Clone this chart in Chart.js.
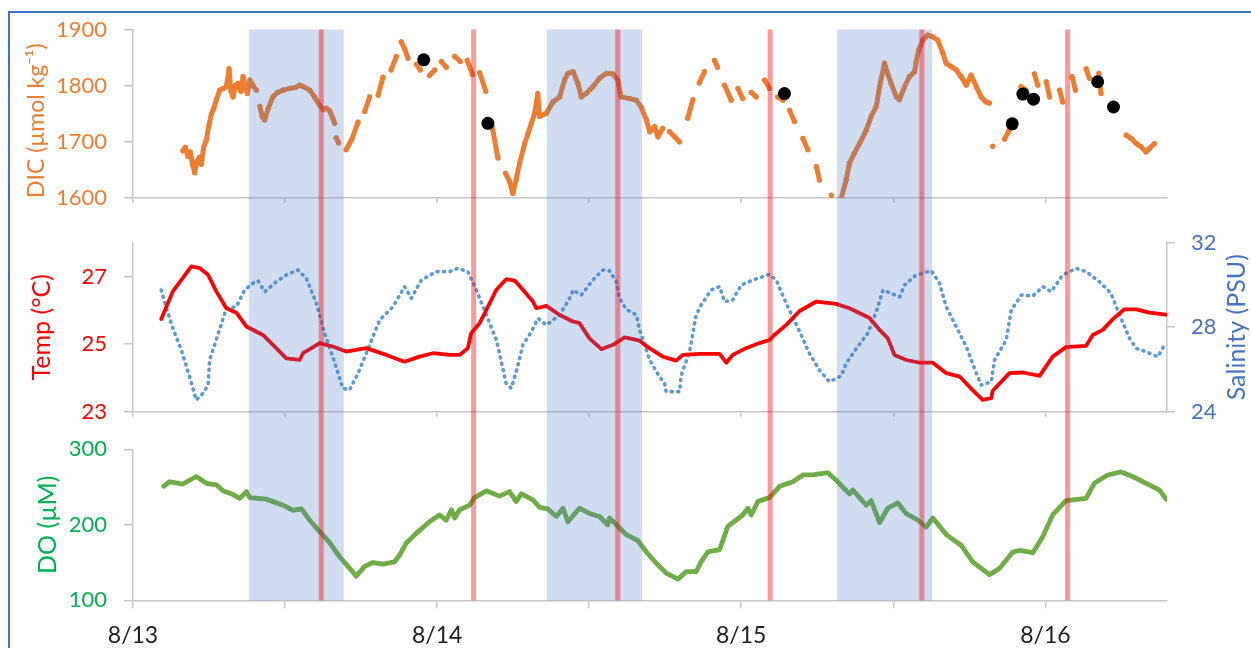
<!DOCTYPE html>
<html><head><meta charset="utf-8">
<script src="https://cdn.jsdelivr.net/npm/chart.js@4.4.1/dist/chart.umd.min.js"></script>
<style>
html,body{margin:0;padding:0;background:#fff;overflow:hidden;}
#wrap{position:relative;width:1251px;height:648px;overflow:hidden;}
#frame{position:absolute;left:8px;top:11px;width:1400px;height:800px;border:2px solid #4472C4;box-sizing:border-box;}
canvas{position:absolute;left:0;top:0;}
</style></head><body>
<div id="wrap"><div id="frame"></div><canvas id="c" width="1251" height="648"></canvas></div>
<script>
// ---- time axis (days since 8/13 00:00) ----
const dayLabels = ['8/13', '8/14', '8/15', '8/16'];
const xTickValues = [0, 0.5, 1, 1.5, 2, 2.5, 3];
const dicTicks = [1600, 1700, 1800, 1900];
const tempTicks = [23, 25, 27];
const salTicks = [24, 28, 32];
const doTicks = [100, 200, 300];

// night periods (shaded) and low-tide markers (red lines)
const nightStart = [0.381, 1.361, 2.315];
const nightEnd = [0.693, 1.674, 2.628];
const lowTide = [0.619, 1.120, 1.594, 2.095, 2.594, 3.073];

// DIC sensor readings [day, µmol/kg]; null = data gap
const dicReadings = [
[0.164,1684],[0.172,1690],[0.181,1674],[0.188,1682],[0.196,1660],[0.203,1645],[0.210,1665],[0.218,1672],[0.225,1660],[0.232,1690],[0.241,1703],[0.250,1730],[0.258,1750],[0.266,1760],[0.274,1775],[0.285,1792],[0.296,1795],[0.307,1798],[0.316,1830],[0.322,1790],[0.329,1780],[0.337,1800],[0.345,1804],[0.355,1790],[0.362,1816],[0.370,1795],[0.376,1786],[0.384,1810],[0.395,1800],[0.406,1792],
null,
[0.417,1763],[0.425,1745],[0.433,1739],[0.445,1760],[0.460,1780],[0.475,1788],[0.493,1792],[0.515,1795],[0.535,1797],[0.548,1801],[0.565,1797],[0.581,1792],[0.597,1780],[0.614,1765],[0.625,1757],[0.636,1760],[0.647,1755],[0.657,1742],[0.663,1733],
null,[0.668,1707],[0.676,1698],
null,[0.701,1686],[0.720,1705],[0.740,1735],
null,[0.762,1754],[0.778,1780],
null,[0.806,1783],[0.822,1815],
null,[0.849,1828],[0.866,1852],
null,[0.882,1878],[0.893,1866],[0.904,1849],
null,[0.932,1838],[0.945,1828],
null,[0.975,1818],[0.992,1828],
null,[1.014,1843],[1.030,1833],
null,[1.058,1852],[1.076,1843],
null,[1.099,1845],[1.116,1820],
null,[1.140,1823],[1.160,1790],
null,[1.181,1727],[1.200,1671],
null,
[1.225,1644],[1.238,1630],[1.249,1608],[1.260,1633],[1.271,1662],[1.288,1697],[1.299,1715],[1.310,1733],[1.321,1751],[1.331,1786],[1.337,1745],[1.359,1751],[1.381,1771],[1.403,1780],[1.419,1810],[1.430,1822],[1.447,1825],[1.463,1804],[1.474,1780],[1.490,1786],[1.512,1798],[1.534,1813],[1.556,1822],[1.578,1821],[1.594,1810],[1.605,1780],[1.633,1777],[1.655,1774],[1.671,1762],[1.688,1739],[1.699,1718],[1.715,1727],[1.726,1709],[1.742,1724],
null,[1.764,1718],[1.781,1709],[1.797,1700],
null,[1.824,1742],[1.841,1775],
null,[1.862,1805],[1.879,1825],
null,[1.912,1845],[1.922,1833],
null,[1.945,1801],[1.967,1774],
null,[1.989,1795],[2.005,1777],
null,[2.033,1788],[2.049,1780],
null,[2.077,1810],[2.093,1795],
null,[2.120,1780],[2.137,1774],
null,[2.159,1756],[2.175,1736],
null,[2.203,1706],[2.219,1686],
null,[2.247,1656],[2.257,1632],
null,[2.296,1605],
null,
[2.329,1600],[2.345,1632],[2.356,1662],[2.372,1680],[2.389,1697],[2.411,1721],[2.427,1745],[2.444,1763],[2.455,1798],[2.471,1840],[2.479,1825],[2.493,1804],[2.510,1780],[2.520,1775],[2.537,1798],[2.553,1816],[2.570,1825],[2.575,1843],[2.584,1864],[2.597,1881],[2.613,1890],[2.630,1887],[2.646,1881],[2.663,1858],[2.674,1840],[2.690,1834],[2.707,1828],[2.723,1816],[2.740,1801],[2.756,1819],[2.773,1798],[2.789,1780],[2.805,1771],[2.816,1769],
null,[2.827,1692],
null,[2.866,1705],[2.882,1722],
null,[2.920,1798],[2.937,1792],
null,[2.964,1821],[2.975,1801],
null,[3.003,1807],[3.014,1780],
null,[3.047,1792],[3.057,1771],
null,[3.088,1816],[3.099,1792],
null,[3.134,1830],[3.145,1813],
null,[3.176,1822],[3.183,1786],
null,
[3.266,1712],[3.282,1706],[3.299,1697],[3.315,1691],[3.331,1682],[3.342,1688],[3.359,1697]
];

// discrete DIC bottle samples [day, µmol/kg]
const dicSamples = [[0.956,1846],[1.167,1733],[2.142,1786],[2.891,1732],[2.926,1785],[2.961,1776],[3.172,1807],[3.224,1762]];

// temperature [day, °C]
const tempReadings = [
[0.093,25.74],[0.131,26.56],[0.159,26.90],[0.192,27.30],[0.219,27.25],[0.247,27.05],[0.274,26.56],[0.307,26.06],[0.340,25.93],[0.373,25.52],[0.427,25.27],[0.471,24.88],[0.504,24.58],[0.548,24.53],[0.559,24.73],[0.614,25.03],[0.657,24.93],[0.701,24.78],[0.767,24.88],[0.833,24.68],[0.893,24.48],[0.942,24.63],[0.986,24.73],[1.041,24.68],[1.074,24.68],[1.101,24.88],[1.112,25.32],[1.140,25.62],[1.162,26.01],[1.195,26.61],[1.227,26.92],[1.255,26.88],[1.282,26.61],[1.315,26.26],[1.326,26.06],[1.359,26.13],[1.403,25.86],[1.446,25.67],[1.468,25.62],[1.501,25.17],[1.540,24.85],[1.578,24.98],[1.617,25.20],[1.666,25.10],[1.693,24.91],[1.742,24.63],[1.786,24.51],[1.808,24.68],[1.863,24.71],[1.929,24.71],[1.951,24.45],[1.972,24.68],[2.016,24.88],[2.060,25.03],[2.093,25.12],[2.109,25.27],[2.148,25.57],[2.192,25.98],[2.247,26.26],[2.312,26.19],[2.356,26.06],[2.422,25.77],[2.455,25.42],[2.482,25.17],[2.504,24.68],[2.543,24.53],[2.586,24.45],[2.630,24.45],[2.674,24.14],[2.718,24.04],[2.761,23.64],[2.794,23.35],[2.822,23.40],[2.827,23.62],[2.882,24.14],[2.926,24.16],[2.981,24.06],[3.024,24.63],[3.068,24.91],[3.134,24.95],[3.156,25.27],[3.189,25.42],[3.222,25.74],[3.260,26.03],[3.299,26.03],[3.342,25.93],[3.397,25.87]
];

// salinity [day, PSU]
const salReadings = [
[0.093,29.76],[0.110,28.90],[0.131,27.95],[0.159,26.92],[0.186,25.66],[0.208,24.55],[0.230,24.87],[0.247,25.26],[0.252,26.45],[0.279,27.63],[0.307,28.90],[0.340,28.97],[0.367,29.76],[0.394,30.08],[0.411,30.20],[0.433,29.68],[0.471,30.15],[0.504,30.47],[0.542,30.71],[0.570,30.31],[0.603,29.13],[0.630,27.71],[0.657,26.60],[0.690,25.11],[0.712,25.03],[0.740,25.82],[0.767,26.76],[0.811,28.34],[0.855,28.97],[0.893,29.92],[0.915,29.37],[0.948,30.23],[0.997,30.63],[1.041,30.63],[1.068,30.79],[1.101,30.63],[1.129,29.76],[1.162,28.58],[1.195,27.39],[1.227,25.34],[1.244,25.11],[1.266,26.21],[1.282,27.16],[1.310,27.79],[1.332,28.42],[1.359,28.10],[1.403,28.58],[1.436,29.37],[1.447,29.76],[1.474,29.52],[1.512,30.23],[1.545,30.71],[1.567,30.67],[1.589,30.15],[1.600,29.37],[1.622,28.84],[1.655,28.58],[1.666,27.87],[1.699,26.45],[1.731,25.66],[1.748,25.34],[1.753,24.95],[1.797,24.95],[1.803,25.74],[1.830,26.84],[1.852,28.58],[1.868,29.05],[1.901,29.76],[1.929,29.92],[1.945,29.21],[1.972,29.29],[2.000,30.00],[2.038,30.23],[2.093,30.50],[2.115,30.23],[2.148,29.13],[2.192,27.79],[2.224,26.76],[2.257,25.97],[2.290,25.42],[2.329,25.69],[2.345,26.29],[2.383,27.08],[2.416,27.71],[2.444,28.73],[2.466,29.76],[2.493,29.60],[2.521,29.44],[2.537,30.00],[2.575,30.47],[2.625,30.67],[2.652,30.08],[2.674,28.97],[2.707,28.02],[2.740,27.08],[2.773,25.82],[2.789,25.26],[2.822,25.42],[2.833,26.45],[2.871,27.39],[2.888,28.81],[2.921,29.52],[2.959,29.48],[2.992,29.92],[3.019,29.68],[3.057,30.47],[3.101,30.79],[3.134,30.63],[3.178,30.15],[3.216,29.60],[3.244,28.58],[3.277,27.47],[3.299,27.00],[3.331,26.84],[3.370,26.60],[3.392,27.16]
];

// dissolved oxygen [day, µM]
const doReadings = [
[0.101,251],[0.121,257],[0.164,254],[0.208,264],[0.241,255],[0.274,253],[0.296,245],[0.329,240],[0.351,235],[0.373,244],[0.384,236],[0.438,234],[0.493,226],[0.526,219],[0.554,221],[0.581,206],[0.614,191],[0.647,176],[0.679,158],[0.707,145],[0.734,132],[0.762,145],[0.789,150],[0.822,148],[0.860,151],[0.877,160],[0.899,176],[0.932,189],[0.975,204],[1.008,213],[1.030,206],[1.047,220],[1.058,209],[1.074,220],[1.107,226],[1.123,236],[1.162,245],[1.205,238],[1.238,244],[1.260,231],[1.277,241],[1.315,233],[1.337,223],[1.364,221],[1.392,211],[1.414,222],[1.430,204],[1.468,222],[1.501,215],[1.534,211],[1.561,200],[1.567,209],[1.589,200],[1.622,187],[1.660,179],[1.688,164],[1.721,149],[1.753,136],[1.792,128],[1.819,138],[1.852,138],[1.868,151],[1.890,164],[1.929,167],[1.956,198],[2.005,213],[2.022,222],[2.033,213],[2.055,231],[2.093,236],[2.126,251],[2.170,257],[2.203,266],[2.235,266],[2.285,269],[2.312,259],[2.356,241],[2.367,246],[2.411,226],[2.427,232],[2.455,203],[2.482,222],[2.515,229],[2.542,215],[2.581,206],[2.608,197],[2.630,209],[2.674,187],[2.723,173],[2.761,151],[2.816,134],[2.849,142],[2.893,164],[2.915,166],[2.959,163],[2.991,184],[3.024,213],[3.068,232],[3.134,235],[3.161,255],[3.205,266],[3.249,270],[3.287,264],[3.342,253],[3.375,246],[3.397,234]
];

// ---- build chart ----
const FONT = 'Lato, "Open Sans", sans-serif';
Chart.defaults.font.family = FONT;
const GRAY = '#C6C6C6';
const C_DIC = '#ED7D31', C_TEMP = '#FF0000', C_SAL = '#4472C4', C_DO = '#00B050';

const toPts = arr => arr.map((p, i) => p ? {x: p[0], y: p[1]} : {x: arr[i - 1][0] + 0.001, y: null});
const setTicks = list => (s => { s.ticks = list.map(v => ({value: v})); });

function yScale(pos, min, max, list, color, title, titleSize, align) {
  return {
    type: 'linear', position: pos, min, max,
    afterBuildTicks: setTicks(list),
    afterFit: s => { s.width = 0; },
    ticks: {color, font: {size: 22}, padding: pos === 'left' ? 17 : 16, autoSkip: false, callback: v => String(v)},
    grid: {drawOnChartArea: false, drawTicks: true, tickLength: pos === 'left' ? 9 : 8, color: GRAY, lineWidth: 1.5},
    border: {display: true, color: GRAY, width: 1.5},
    title: title ? {display: true, text: title, color, font: {size: titleSize}, padding: 0, align: align || 'center'} : {display: false}
  };
}
function xScale(showLabels, tl) {
  return {
    type: 'linear', position: 'bottom', min: 0, max: 3.4,
    afterBuildTicks: setTicks(xTickValues),
    afterFit: s => { s.height = 0; },
    ticks: {
      display: showLabels, color: '#1E1E1E', font: {size: 23}, padding: 13, autoSkip: false, maxRotation: 0,
      callback: v => Number.isInteger(v) ? dayLabels[v] : ''
    },
    grid: {drawOnChartArea: false, drawTicks: true, tickLength: tl, color: GRAY, lineWidth: 1.5},
    border: {display: true, color: GRAY, width: 1.5}
  };
}

function place(s, left, right, top, bottom) {
  s.left = left; s.right = right; s.top = top; s.bottom = bottom;
  s.width = right - left; s.height = bottom - top;
  s.configure();
}

const panelPlugin = {
  id: 'panelPlugin',
  afterLayout(chart) {
    const s = chart.scales, a = chart.chartArea;
    place(s.yDIC, 23, a.left, 29.5, 198);
    place(s.yTemp, 27, a.left, 242.7, 411.7);
    place(s.yDO, 33, a.left, 449.3, 600.3);
    place(s.ySal, a.right, 1250, 242.7, 411.7);
    place(s.xDIC, a.left, a.right, 198, 215);
    place(s.xMid, a.left, a.right, 411.7, 430);
    place(s.x, a.left, a.right, 600.3, 648);
  },
  afterDatasetsDraw(chart) {
    const ctx = chart.ctx;
    const x = chart.scales.x;
    const top = chart.scales.yDIC.top, bottom = chart.scales.yDO.bottom;
    ctx.save();
    ctx.fillStyle = 'rgba(68,114,196,0.25)';
    nightStart.forEach((t, i) => {
      const x0 = x.getPixelForValue(t), x1 = x.getPixelForValue(nightEnd[i]);
      ctx.fillRect(x0, top, x1 - x0, bottom - top);
    });
    ctx.fillStyle = 'rgba(255,0,0,0.4)';
    lowTide.forEach(t => {
      const px = x.getPixelForValue(t);
      ctx.fillRect(px - 2.5, top, 5, bottom - top);
    });
    ctx.restore();
  },
  afterDraw(chart) {
    const s = chart.scales.ySal, ctx = chart.ctx;
    ctx.save();
    ctx.translate(s.left + 70, (s.top + s.bottom) / 2);
    ctx.rotate(-Math.PI / 2);
    ctx.font = '25px ' + FONT;
    ctx.fillStyle = C_SAL;
    ctx.textAlign = 'center';
    ctx.textBaseline = 'middle';
    ctx.fillText('Salinity (PSU)', 0, 0);
    ctx.restore();
  }
};

new Chart(document.getElementById('c'), {
  type: 'line',
  data: {
    datasets: [
      {label: 'DIC samples', data: toPts(dicSamples), xAxisID: 'xDIC', yAxisID: 'yDIC', showLine: false,
       pointRadius: 6.5, pointBackgroundColor: '#000', pointBorderWidth: 0, order: 0},
      {label: 'Temp', data: toPts(tempReadings), xAxisID: 'xMid', yAxisID: 'yTemp', borderColor: C_TEMP,
       borderWidth: 3.8, pointRadius: 0, order: 1},
      {label: 'Salinity', data: toPts(salReadings), xAxisID: 'xMid', yAxisID: 'ySal', borderColor: '#5B9BD5',
       borderWidth: 3.6, borderDash: [1, 5.5], borderCapStyle: 'round', pointRadius: 0, order: 2},
      {label: 'DIC', data: toPts(dicReadings), xAxisID: 'xDIC', yAxisID: 'yDIC', borderColor: C_DIC,
       borderWidth: 5, pointRadius: 2.6, pointBackgroundColor: C_DIC, pointBorderWidth: 0, spanGaps: false, order: 3},
      {label: 'DO', data: toPts(doReadings), xAxisID: 'x', yAxisID: 'yDO', borderColor: '#70AD47',
       borderWidth: 4.8, pointRadius: 0, order: 4}
    ]
  },
  options: {
    responsive: false, animation: false, devicePixelRatio: 1,
    layout: {padding: {left: 133, right: 84, top: 30, bottom: 48}},
    plugins: {legend: {display: false}, tooltip: {enabled: false}},
    elements: {line: {tension: 0, borderJoinStyle: 'round', borderCapStyle: 'round'}},
    scales: {
      x: xScale(true, 8),
      xDIC: xScale(false, 5),
      xMid: xScale(false, 5),
      yDIC: yScale('left', 1600, 1900, dicTicks, C_DIC, 'DIC (µmol kg⁻¹)', 23, 'start'),
      yTemp: yScale('left', 23, 28, tempTicks, C_TEMP, 'Temp (°C)', 25),
      yDO: yScale('left', 100, 300, doTicks, C_DO, 'DO (µM)', 25),
      ySal: yScale('right', 24, 32, salTicks, C_SAL, null)
    }
  },
  plugins: [panelPlugin]
});
</script></body></html>
